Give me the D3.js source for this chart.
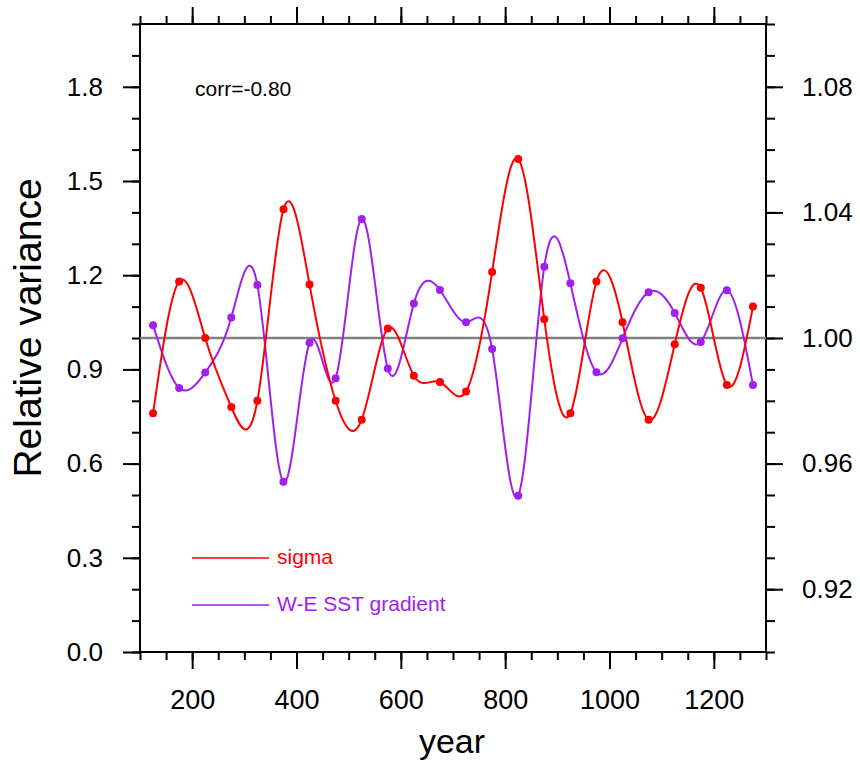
<!DOCTYPE html>
<html>
<head>
<meta charset="utf-8">
<script src="https://cdn.jsdelivr.net/npm/d3@7"></script>
<style>
  body { margin: 0; background: #fff; }
  svg { font-family: "Liberation Sans", Arial, Helvetica, sans-serif; }
</style>
</head>
<body>
<svg></svg>
<script>
// years of each point (centre of 50-yr windows)
const years = [125, 175, 225, 275, 325, 375, 425, 475, 525, 575, 625, 675,
               725, 775, 825, 875, 925, 975, 1025, 1075, 1125, 1175, 1225, 1275];

// sigma -> left axis
const sigma = [0.76, 1.18, 1.00, 0.78, 0.80, 1.41, 1.17, 0.80, 0.74, 1.03, 0.88, 0.86,
               0.83, 1.21, 1.57, 1.06, 0.76, 1.18, 1.05, 0.74, 0.98, 1.16, 0.85, 1.10];

// W-E SST gradient -> right axis
const gradient = [1.0041, 0.9841, 0.9890, 1.0065, 1.0169, 0.9542, 0.9985, 0.9872,
                  1.0379, 0.9903, 1.0110, 1.0153, 1.0050, 0.9965, 0.9498, 1.0227,
                  1.0174, 0.9891, 0.9999, 1.0146, 1.0080, 0.9987, 1.0152, 0.9850];

const xMajor = [200, 400, 600, 800, 1000, 1200];
const leftMajor = [0.0, 0.3, 0.6, 0.9, 1.2, 1.5, 1.8];
const rightMajor = [0.92, 0.96, 1.00, 1.04, 1.08];

const size = {w: 860, h: 762};
const plot = {l: 140, r: 766, t: 24, b: 652};
const svg = d3.select('svg').attr('width', size.w).attr('height', size.h);

const x = d3.scaleLinear().domain([100, 1300]).range([plot.l, plot.r]);
const yL = d3.scaleLinear().domain([0, 2]).range([plot.b, plot.t]);
const yR = d3.scaleLinear().domain([0.9, 1.1]).range([plot.b, plot.t]);

const red = '#ff0000';
const purple = '#a020f0';

// minor tick positions
const xMinor = d3.range(100, 1301, 50);
const leftMinor = d3.range(0, 21).map(i => i / 10);
const rightMinor = d3.range(0, 21).map(i => 0.9 + i / 100);

function styleAxis(g, fs) {
    g.select('.domain').remove();
    g.selectAll('line').attr('stroke', '#000').attr('stroke-width', 2);
    g.selectAll('text').attr('font-size', fs).attr('fill', '#000')
        .attr('font-family', '"Liberation Sans", Arial, Helvetica, sans-serif');
}

// bottom axis
svg.append('g').attr('transform', `translate(0,${plot.b})`)
    .call(d3.axisBottom(x).tickValues(xMinor).tickSize(8).tickFormat(''))
    .call(g => styleAxis(g, 0));
svg.append('g').attr('transform', `translate(0,${plot.b})`)
    .call(d3.axisBottom(x).tickValues(xMajor).tickSize(17).tickPadding(21).tickFormat(d3.format('d')))
    .call(g => styleAxis(g, 27));

// top axis (ticks only)
svg.append('g').attr('transform', `translate(0,${plot.t})`)
    .call(d3.axisTop(x).tickValues(xMinor).tickSize(8).tickFormat(''))
    .call(g => styleAxis(g, 0));
svg.append('g').attr('transform', `translate(0,${plot.t})`)
    .call(d3.axisTop(x).tickValues(xMajor).tickSize(17).tickFormat(''))
    .call(g => styleAxis(g, 0));

// left axis
svg.append('g').attr('transform', `translate(${plot.l},0)`)
    .call(d3.axisLeft(yL).tickValues(leftMinor).tickSize(8).tickFormat(''))
    .call(g => styleAxis(g, 0));
svg.append('g').attr('transform', `translate(${plot.l},0)`)
    .call(d3.axisLeft(yL).tickValues(leftMajor).tickSize(17).tickPadding(20).tickFormat(d3.format('.1f')))
    .call(g => styleAxis(g, 26));

// right axis
svg.append('g').attr('transform', `translate(${plot.r},0)`)
    .call(d3.axisRight(yR).tickValues(rightMinor).tickSize(9).tickFormat(''))
    .call(g => styleAxis(g, 0));
svg.append('g').attr('transform', `translate(${plot.r},0)`)
    .call(d3.axisRight(yR).tickValues(rightMajor).tickSize(17).tickPadding(19).tickFormat(d3.format('.2f')))
    .call(g => styleAxis(g, 26));

// frame
svg.append('rect')
    .attr('x', plot.l).attr('y', plot.t)
    .attr('width', plot.r - plot.l).attr('height', plot.b - plot.t)
    .attr('fill', 'none').attr('stroke', '#000').attr('stroke-width', 2);

// reference line at 1.0
svg.append('line')
    .attr('x1', plot.l).attr('x2', plot.r)
    .attr('y1', yL(1)).attr('y2', yL(1))
    .attr('stroke', '#808080').attr('stroke-width', 2.5);

// smooth curves through the points
const sigmaLine = d3.line().x((d, i) => x(years[i])).y(d => yL(d)).curve(d3.curveNatural);
const gradLine = d3.line().x((d, i) => x(years[i])).y(d => yR(d)).curve(d3.curveNatural);

svg.append('path').datum(gradient)
    .attr('d', gradLine).attr('fill', 'none').attr('stroke', purple).attr('stroke-width', 2);
svg.append('path').datum(sigma)
    .attr('d', sigmaLine).attr('fill', 'none').attr('stroke', red).attr('stroke-width', 2);

svg.append('g').selectAll('circle').data(gradient).join('circle')
    .attr('cx', (d, i) => x(years[i])).attr('cy', d => yR(d)).attr('r', 4).attr('fill', purple);
svg.append('g').selectAll('circle').data(sigma).join('circle')
    .attr('cx', (d, i) => x(years[i])).attr('cy', d => yL(d)).attr('r', 4).attr('fill', red);

// correlation note
svg.append('text').attr('x', 195).attr('y', 96).attr('font-size', 21).text('corr=-0.80');

// legend
const legend = [
    {label: 'sigma', color: red, y: 558},
    {label: 'W-E SST gradient', color: purple, y: 605}
];
legend.forEach(d => {
    svg.append('line').attr('x1', 192).attr('x2', 269).attr('y1', d.y).attr('y2', d.y)
        .attr('stroke', d.color).attr('stroke-width', 1.5);
    svg.append('text').attr('x', 277).attr('y', d.y + 6).attr('font-size', 21)
        .attr('fill', d.color).text(d.label);
});

// axis titles
svg.append('text')
    .attr('transform', `translate(41,${(plot.t + plot.b) / 2 - 10}) rotate(-90)`)
    .attr('text-anchor', 'middle').attr('font-size', 39).text('Relative variance');
svg.append('text')
    .attr('x', (plot.l + plot.r) / 2 - 1).attr('y', 753)
    .attr('text-anchor', 'middle').attr('font-size', 34).text('year');
</script>
</body>
</html>
